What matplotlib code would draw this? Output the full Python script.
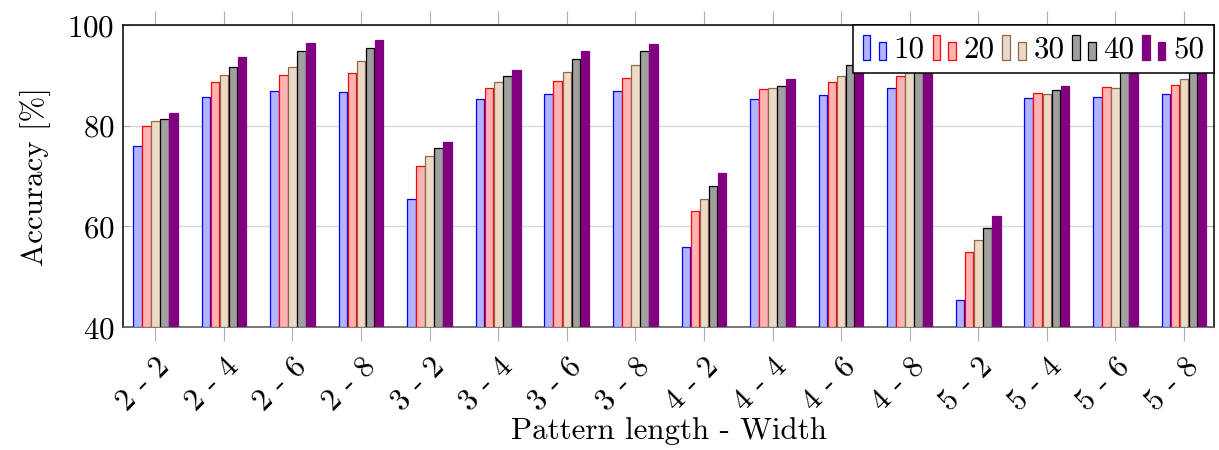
import numpy as np
import matplotlib.pyplot as plt
from matplotlib.patches import Rectangle
from matplotlib.legend_handler import HandlerBase

# ============================================================
# DATA
# ============================================================
groups = ['2 - 2', '2 - 4', '2 - 6', '2 - 8',
          '3 - 2', '3 - 4', '3 - 6', '3 - 8',
          '4 - 2', '4 - 4', '4 - 6', '4 - 8',
          '5 - 2', '5 - 4', '5 - 6', '5 - 8']
series_names = ['10', '20', '30', '40', '50']

acc_10 = [75.9, 85.8, 87.0, 86.8, 65.5, 85.4, 86.4, 87.0,
          55.9, 85.3, 86.2, 87.6, 45.4, 85.6, 85.8, 86.4]
acc_20 = [79.9, 88.7, 90.2, 90.6, 72.1, 87.5, 88.9, 89.5,
          63.1, 87.4, 88.8, 89.9, 55.0, 86.5, 87.8, 88.2]
acc_30 = [81.0, 90.2, 91.7, 92.9, 74.1, 88.7, 90.7, 92.0,
          65.4, 87.6, 90.0, 91.8, 57.3, 86.4, 87.6, 89.4]
acc_40 = [81.3, 91.7, 94.8, 95.4, 75.5, 89.9, 93.2, 94.8,
          68.0, 88.0, 92.0, 94.3, 59.8, 87.2, 91.5, 91.8]
acc_50 = [82.6, 93.6, 96.4, 97.0, 76.7, 91.1, 94.9, 96.2,
          70.6, 89.4, 93.8, 95.8, 62.1, 88.0, 93.0, 93.5]

# ============================================================
# STYLE
# ============================================================
plt.rcParams['font.family'] = ['cmr10', 'DejaVu Serif']
plt.rcParams['mathtext.fontset'] = 'cm'
plt.rcParams['axes.formatter.use_mathtext'] = True

FS = 22.3
face_colors = ['#b3b3ff', '#ffb3b3', '#ecd9c6', '#a0a0a0', '#800080']
edge_colors = ['#0000ff', '#ff0000', '#8c6a48', '#000000', '#800080']


class TwoBarHandler(HandlerBase):
    # pgfplots-style ybar legend image: two small bars
    def create_artists(self, legend, orig_handle, xdescent, ydescent,
                       width, height, fontsize, trans):
        fc = orig_handle.get_facecolor()
        ec = orig_handle.get_edgecolor()
        w = width * 0.32
        x0, y0 = -xdescent, -ydescent - height * 0.12
        r1 = Rectangle((x0, y0), w, height * 1.12, facecolor=fc,
                       edgecolor=ec, lw=0.9, transform=trans)
        r2 = Rectangle((x0 + width - w, y0), w, height * 0.82, facecolor=fc,
                       edgecolor=ec, lw=0.9, transform=trans)
        return [r1, r2]


# ============================================================
# CHART
# ============================================================
fig = plt.figure(figsize=(12.19, 4.5), dpi=100)
ax = fig.add_axes([0.101, 0.273, 0.895, 0.671])

x = np.arange(len(groups))
bw = 0.125
all_series = [acc_10, acc_20, acc_30, acc_40, acc_50]
handles = []
for i, vals in enumerate(all_series):
    offset = (i - 2) * (bw + 0.007)
    bars = ax.bar(x + offset, np.array(vals) - 40, bw, bottom=40,
                  color=face_colors[i], edgecolor=edge_colors[i],
                  linewidth=0.9, zorder=3, label=series_names[i])
    handles.append(bars.patches[0])

ax.set_xlim(-0.47, 15.44)
ax.set_ylim(40, 100)
ax.set_yticks([40, 60, 80, 100])
ax.set_xticks(x)
ax.set_xticklabels(groups, rotation=45, ha='right', rotation_mode='anchor')

ax.grid(True, axis='y', color='#d9d9d9', linewidth=1.0, zorder=0)
ax.tick_params(axis='x', which='both', direction='out', length=10,
               color='#b0b0b0', top=True, labelsize=FS, pad=8)
ax.tick_params(axis='y', direction='in', length=5, color='#b0b0b0',
               right=True, labelsize=FS, pad=6)
for s in ax.spines.values():
    s.set_linewidth(1.1)
ax.spines['bottom'].set_color('#555555')

ax.set_ylabel('Accuracy [%]', fontsize=FS, labelpad=12)
ax.set_xlabel('Pattern length - Width', fontsize=FS)
ax.xaxis.label.set_va('baseline')
ax.xaxis.set_label_coords(0.5, -0.372)

leg = ax.legend(handles=handles, labels=series_names, ncol=5,
                loc='upper right', borderaxespad=0, fontsize=FS,
                handler_map={h: TwoBarHandler() for h in handles},
                handlelength=0.75, handleheight=0.7, handletextpad=0.25,
                columnspacing=0.25, borderpad=0.32, fancybox=False,
                framealpha=1, edgecolor='black')
leg.get_frame().set_linewidth(1.1)
leg.set_zorder(10)

plt.savefig('out.png', dpi=100)
